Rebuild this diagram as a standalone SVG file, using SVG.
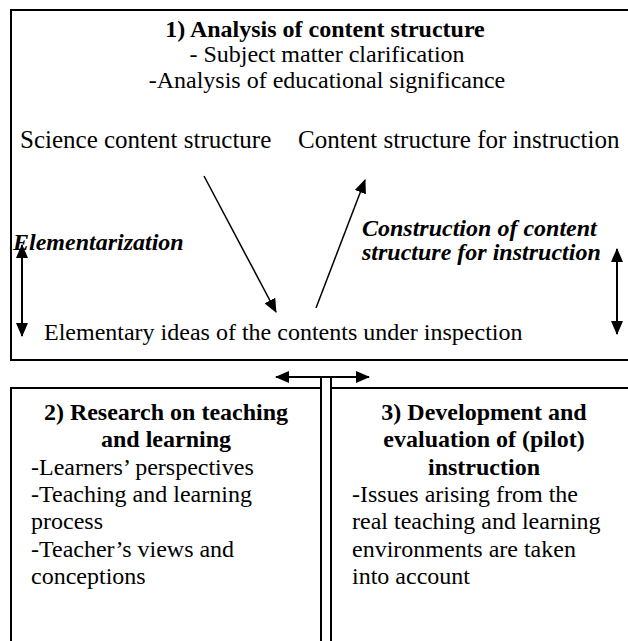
<svg xmlns="http://www.w3.org/2000/svg" width="628" height="641" viewBox="0 0 628 641">
<style>
.box{fill:#fff;stroke:#000;stroke-width:2}
text{font-family:"Liberation Serif","Times New Roman",serif;font-size:24px;fill:#000}
.b{font-weight:bold}
.bi{font-weight:bold;font-style:italic}
.mid{text-anchor:middle}
.ln{stroke:#000;stroke-width:2;fill:none}
.thin{stroke:#000;stroke-width:1.5;fill:none}
</style>
<defs>
<marker id="ah" viewBox="0 0 14 12" refX="13" refY="6" markerWidth="14" markerHeight="12" markerUnits="userSpaceOnUse" orient="auto-start-reverse">
<path d="M0,0 L14,6 L0,12 z" fill="#000"/>
</marker>
</defs>
<rect width="628" height="641" fill="#fff"/>
<g id="node1">
<rect class="box" x="11" y="10" width="628" height="350"/>
<text class="b mid" x="325" y="37">1) Analysis of content structure</text>
<text class="mid" x="327" y="62">- Subject matter clarification</text>
<text class="mid" x="327" y="88">-Analysis of educational significance</text>
<text x="20" y="148" style="font-size:25px">Science content structure</text>
<text x="298" y="148" style="font-size:25px">Content structure for instruction</text>
<text class="bi" x="13" y="250">Elementarization</text>
<text class="bi" x="362" y="236">Construction of content</text>
<text class="bi" x="362" y="260">structure for instruction</text>
<text x="44" y="340">Elementary ideas of the contents under inspection</text>
</g>
<g id="node2">
<rect class="box" x="11" y="388" width="310" height="270"/>
<text class="b mid" x="166" y="420">2) Research on teaching</text>
<text class="b mid" x="166" y="447">and learning</text>
<text x="31" y="475">-Learners’ perspectives</text>
<text x="31" y="502">-Teaching and learning</text>
<text x="31" y="529">process</text>
<text x="31" y="557">-Teacher’s views and</text>
<text x="31" y="584">conceptions</text>
</g>
<g id="node3">
<rect class="box" x="331" y="388" width="310" height="270"/>
<text class="b mid" x="484" y="420">3) Development and</text>
<text class="b mid" x="484" y="447">evaluation of (pilot)</text>
<text class="b mid" x="484" y="475">instruction</text>
<text x="352" y="502">-Issues arising from the</text>
<text x="352" y="529">real teaching and learning</text>
<text x="352" y="557">environments are taken</text>
<text x="352" y="584">into account</text>
</g>
<g id="connectors">
<line class="thin" x1="204" y1="176" x2="276" y2="312" marker-end="url(#ah)"/>
<line class="thin" x1="316" y1="308" x2="365" y2="180" marker-end="url(#ah)"/>
<line class="ln" x1="22" y1="245" x2="22" y2="336" marker-start="url(#ah)" marker-end="url(#ah)"/>
<line class="ln" x1="617" y1="249" x2="617" y2="334" marker-start="url(#ah)" marker-end="url(#ah)"/>
<line class="ln" x1="276" y1="377" x2="369" y2="377" marker-start="url(#ah)" marker-end="url(#ah)"/>
<line class="ln" x1="321" y1="377" x2="321" y2="389"/>
<line class="ln" x1="331" y1="377" x2="331" y2="389"/>
</g>
</svg>
